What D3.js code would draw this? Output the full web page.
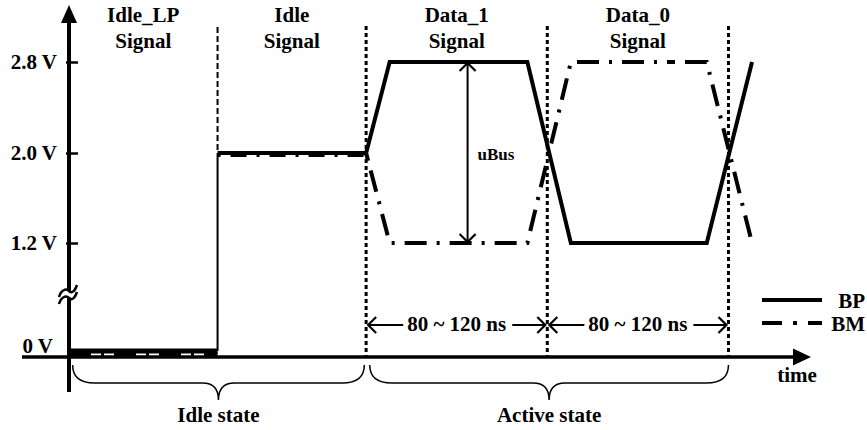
<!DOCTYPE html>
<html><head><meta charset="utf-8">
<script src="https://cdn.jsdelivr.net/npm/d3@7/dist/d3.min.js"></script>
<style>
html,body{margin:0;padding:0;background:#fff;}
svg{display:block;font-family:"Liberation Serif","Times New Roman",serif;font-weight:bold;}
</style></head><body>
<svg id="chart" width="867" height="430"></svg>
<script>
// ---- data ----
const phaseNames = ["Idle_LP", "Idle", "Data_1", "Data_0"];
const phaseSub = ["Signal", "Signal", "Signal", "Signal"];
const phaseStart = [0, 82, 164, 264];
const phaseEnd = [82, 164, 264, 364];
const bpTime = [0, 82, 82, 164, 177, 253, 277, 352, 377];
const bpVolt = [0, 0, 2.0, 2.0, 2.8, 2.8, 1.2, 1.2, 2.8];
const bmTime = [0, 82, 82, 164, 177, 253, 277, 352, 377];
const bmVolt = [0, 0, 2.0, 2.0, 1.2, 1.2, 2.8, 2.8, 1.2];
const yTicks = [0, 1.2, 2.0, 2.8];
const yTickLabels = ["0 V", "1.2 V", "2.0 V", "2.8 V"];
const periodLabel = "80 ~ 120 ns";
const uBusTime = 220, uBusFrom = 1.2, uBusTo = 2.8, uBusLabel = "uBus";
const stateNames = ["Idle state", "Active state"];
const stateStart = [2, 166];
const stateEnd = [163, 364];
const seriesNames = ["BP", "BM"];
const axisLabel = "time";

// ---- scales ----
const svg = d3.select("#chart");
const x = d3.scaleLinear().domain([0, 409]).range([69, 810]);
const y = d3.scaleLinear().domain([0, 1.2, 2.0, 2.8]).range([351, 243, 153, 62]);
const DASHDOT = "22,10,3,10";
const FS = 21;

// ---- phase dividers ----
phaseEnd.forEach((t, i) => {
  if (i === 0) {
    svg.append("line").attr("x1", x(t)).attr("x2", x(t)).attr("y1", 27).attr("y2", y(2.0))
      .attr("stroke", "#000").attr("stroke-width", 2).attr("stroke-dasharray", "6,3");
  } else {
    svg.append("line").attr("x1", x(t)).attr("x2", x(t)).attr("y1", 26).attr("y2", 357)
      .attr("stroke", "#000").attr("stroke-width", 3).attr("stroke-dasharray", "4,3");
  }
});

// ---- phase titles ----
phaseNames.forEach((n, i) => {
  const cx = x((phaseStart[i] + phaseEnd[i]) / 2);
  svg.append("text").attr("x", cx).attr("y", 22).attr("text-anchor", "middle")
    .attr("font-size", FS).text(n);
  svg.append("text").attr("x", cx).attr("y", 48).attr("text-anchor", "middle")
    .attr("font-size", FS).text(phaseSub[i]);
});

// ---- signals ----
const line = d3.line().x(d => x(d[0])).y(d => y(d[1]));
const bp = bpTime.map((t, i) => [t, bpVolt[i]]);
const bm = bmTime.map((t, i) => [t, bmVolt[i]]);

// BP: thick horizontal, thin vertical step, thick remainder
svg.append("path").attr("d", line(bp.slice(0, 2))).attr("fill", "none")
  .attr("stroke", "#000").attr("stroke-width", 5);
svg.append("path").attr("d", line(bp.slice(1, 3))).attr("fill", "none")
  .attr("stroke", "#000").attr("stroke-width", 2);
svg.append("path").attr("d", line(bp.slice(2))).attr("fill", "none")
  .attr("stroke", "#000").attr("stroke-width", 4).attr("stroke-linejoin", "miter");

// BM: dash-dot, drawn just below BP where they overlap
svg.append("path").attr("d", line(bm.slice(0, 2))).attr("fill", "none")
  .attr("transform", "translate(0,3)")
  .attr("stroke", "#000").attr("stroke-width", 4).attr("stroke-dasharray", DASHDOT);
svg.append("path").attr("d", line(bm.slice(2, 4))).attr("fill", "none")
  .attr("transform", "translate(0,2)")
  .attr("stroke", "#000").attr("stroke-width", 4).attr("stroke-dasharray", "3,10,16,10");
svg.append("path").attr("d", line(bm.slice(3))).attr("fill", "none")
  .attr("stroke", "#000").attr("stroke-width", 4).attr("stroke-dasharray", "8,10,22,10,3,10,22,10,3,10,22,10,3,10,22,10,3,10,22,10,3,10,22,10,3,10,22,10,3,10,22,10,3,10,22,10,3,10,22,10,3,10,22,10,3,10");

// ---- y axis ----
const yAxis = d3.axisLeft(y).tickValues(yTicks)
  .tickFormat((d, i) => yTickLabels[i]).tickSize(0).tickPadding(12);
const gy = svg.append("g").attr("transform", "translate(69,0)").call(yAxis);
gy.select(".domain").remove();
gy.attr("font-family", null).attr("font-size", null);
gy.selectAll(".tick text").attr("font-size", FS).attr("fill", "#000");
gy.selectAll(".tick").each(function (d) {
  const g = d3.select(this);
  if (d === 0) {
    g.select("text").attr("x", -16).attr("dy", "0.05em");
  } else {
    g.append("line").attr("x1", -3).attr("x2", 9).attr("stroke", "#000").attr("stroke-width", 2.5);
  }
});
svg.append("line").attr("x1", 69).attr("x2", 69).attr("y1", 392).attr("y2", 20)
  .attr("stroke", "#000").attr("stroke-width", 4);
svg.append("path").attr("d", "M69,5 L61,23 L77,23 Z").attr("fill", "#000");

// axis break
svg.append("rect").attr("x", 64).attr("y", 291).attr("width", 10).attr("height", 7).attr("fill", "#fff");
svg.append("path").attr("d", "M59,297 C61,290 66,288 69,291 C72,294 75,291 77,285")
  .attr("fill", "none").attr("stroke", "#000").attr("stroke-width", 2.5);
svg.append("path").attr("d", "M59,304 C61,297 66,295 69,298 C72,301 75,298 77,292")
  .attr("fill", "none").attr("stroke", "#000").attr("stroke-width", 2.5);

// ---- x axis ----
svg.append("line").attr("x1", 22).attr("x2", 796).attr("y1", 357).attr("y2", 357)
  .attr("stroke", "#000").attr("stroke-width", 3.5);
svg.append("path").attr("d", "M811,357 L793,348.5 L793,365.5 Z").attr("fill", "#000");
svg.append("text").attr("x", 797).attr("y", 382).attr("text-anchor", "middle")
  .attr("font-size", FS).text(axisLabel);

// ---- period arrows ----
function openHead(tx, ty, dir) { // dir: 'l','r','u','d'
  const a = 8;
  let p;
  if (dir === "l") p = `M${tx + a},${ty - a} L${tx},${ty} L${tx + a},${ty + a}`;
  if (dir === "r") p = `M${tx - a},${ty - a} L${tx},${ty} L${tx - a},${ty + a}`;
  if (dir === "u") p = `M${tx - a},${ty + a} L${tx},${ty} L${tx + a},${ty + a}`;
  if (dir === "d") p = `M${tx - a},${ty - a} L${tx},${ty} L${tx + a},${ty - a}`;
  svg.append("path").attr("d", p).attr("fill", "none").attr("stroke", "#000").attr("stroke-width", 2.2);
}
[[164, 264], [264, 364]].forEach(([a, b]) => {
  const ay = 325;
  const cx = (x(a) + x(b)) / 2;
  const t = svg.append("text").attr("x", cx).attr("y", 331).attr("text-anchor", "middle")
    .attr("font-size", FS).text(periodLabel);
  const w = t.node().getComputedTextLength();
  const l0 = x(a) + 2, r0 = x(b) - 2;
  svg.append("line").attr("x1", l0).attr("x2", cx - w / 2 - 4).attr("y1", ay).attr("y2", ay)
    .attr("stroke", "#000").attr("stroke-width", 2.2);
  svg.append("line").attr("x1", cx + w / 2 + 6).attr("x2", r0).attr("y1", ay).attr("y2", ay)
    .attr("stroke", "#000").attr("stroke-width", 2.2);
  openHead(l0, ay, "l");
  openHead(r0, ay, "r");
});

// ---- uBus arrow ----
svg.append("line").attr("x1", x(uBusTime)).attr("x2", x(uBusTime))
  .attr("y1", y(uBusTo)).attr("y2", y(uBusFrom)).attr("stroke", "#000").attr("stroke-width", 2);
openHead(x(uBusTime), y(uBusTo) + 1, "u");
openHead(x(uBusTime), y(uBusFrom) - 1, "d");
svg.append("text").attr("x", x(uBusTime) + 10).attr("y", 160).attr("font-size", 17).text(uBusLabel);

// ---- braces ----
stateNames.forEach((n, i) => {
  const x0 = x(stateStart[i]), x1 = x(stateEnd[i]), xm = (x0 + x1) / 2;
  const top = 365, mid = 383, tip = 400;
  const p = `M${x0},${top} Q${x0},${mid} ${x0 + 22},${mid} L${xm - 16},${mid} Q${xm},${mid} ${xm},${tip}` +
            ` Q${xm},${mid} ${xm + 16},${mid} L${x1 - 22},${mid} Q${x1},${mid} ${x1},${top}`;
  svg.append("path").attr("d", p).attr("fill", "none").attr("stroke", "#000").attr("stroke-width", 1.5);
  svg.append("text").attr("x", xm).attr("y", 422).attr("text-anchor", "middle")
    .attr("font-size", FS).text(n);
});

// ---- legend ----
seriesNames.forEach((n, i) => {
  const ly = 300 + i * 23;
  svg.append("line").attr("x1", 762).attr("x2", 822).attr("y1", ly).attr("y2", ly)
    .attr("stroke", "#000").attr("stroke-width", 4)
    .attr("stroke-dasharray", i === 1 ? "20,11,4,11" : null);
  svg.append("text").attr("x", 865).attr("y", ly + 8).attr("text-anchor", "end")
    .attr("font-size", FS).text(n);
});
</script>
</body></html>
